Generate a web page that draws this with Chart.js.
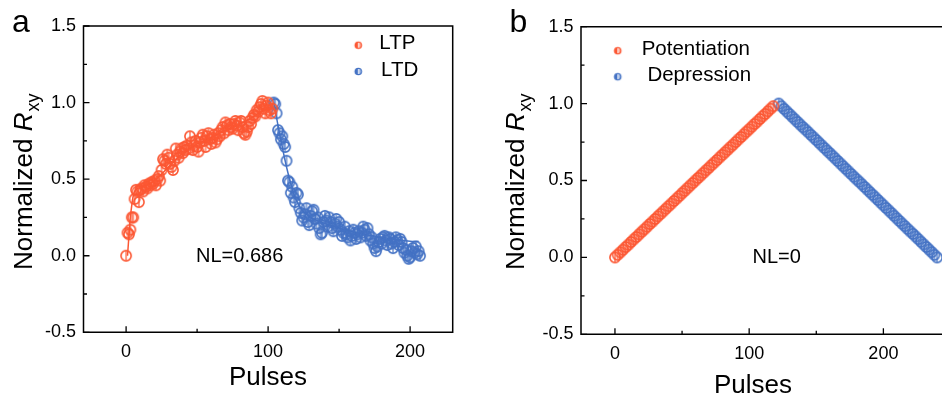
<!DOCTYPE html>
<html>
<head>
<meta charset="utf-8">
<script src="https://cdn.jsdelivr.net/npm/chart.js@4.4.1/dist/chart.umd.min.js"></script>
<style>
  html, body { margin: 0; padding: 0; background: #fff; }
  #wrap { display: flex; width: 942px; height: 398px; }
  canvas { display: block; }
</style>
</head>
<body>
<div id="wrap">
  <canvas id="chartA" width="471" height="398"></canvas>
  <canvas id="chartB" width="471" height="398"></canvas>
</div>
<script>
// ---- panel a : measured LTP / LTD (one value per pulse) ----
const ltpStart = 0;
const ltpValues = [
  0.00, 0.15, 0.14, 0.17, 0.25, 0.25, 0.37, 0.43, 0.42, 0.35,
  0.43, 0.44, 0.42, 0.46, 0.45, 0.44, 0.47, 0.46, 0.48, 0.47,
  0.49, 0.46, 0.50, 0.52, 0.49, 0.56, 0.63, 0.62, 0.60, 0.66,
  0.64, 0.60, 0.58, 0.56, 0.62, 0.70, 0.66, 0.64, 0.68, 0.70,
  0.67, 0.71, 0.69, 0.72, 0.70, 0.78, 0.74, 0.69, 0.72, 0.75,
  0.71, 0.68, 0.74, 0.77, 0.79, 0.75, 0.71, 0.78, 0.80, 0.76,
  0.73, 0.77, 0.79, 0.74, 0.76, 0.80, 0.78, 0.82, 0.84, 0.80,
  0.87, 0.85, 0.82, 0.86, 0.84, 0.83, 0.86, 0.88, 0.85, 0.82,
  0.87, 0.88, 0.84, 0.80, 0.79, 0.81, 0.84, 0.88, 0.86, 0.90,
  0.92, 0.91, 0.95, 0.94, 0.97, 0.99, 1.01, 0.96, 0.93, 0.98,
  1.00, 0.95, 0.93, 0.96
];
const ltdStart = 104;
const ltdValues = [
  1.00, 0.99, 0.93, 0.82, 0.80, 0.76, 0.78, 0.73, 0.71, 0.62,
  0.49, 0.48, 0.41, 0.45, 0.38, 0.35, 0.41, 0.40, 0.31, 0.28,
  0.23, 0.25, 0.27, 0.31, 0.22, 0.20, 0.26, 0.29, 0.30, 0.24,
  0.21, 0.25, 0.18, 0.14, 0.15, 0.22, 0.26, 0.23, 0.19, 0.25,
  0.22, 0.18, 0.16, 0.21, 0.24, 0.19, 0.22, 0.17, 0.13, 0.15,
  0.19, 0.14, 0.12, 0.16, 0.10, 0.13, 0.17, 0.15, 0.11, 0.14,
  0.16, 0.12, 0.15, 0.19, 0.17, 0.13, 0.18, 0.14, 0.10, 0.12,
  0.08, 0.05, 0.03, 0.06, 0.09, 0.11, 0.08, 0.12, 0.13, 0.10,
  0.07, 0.12, 0.11, 0.08, 0.05, 0.09, 0.12, 0.10, 0.07, 0.11,
  0.09, 0.05, 0.02, 0.04, 0.00, -0.02, -0.01, 0.03, 0.05, 0.02,
  0.06, 0.01, 0.03, 0.00
];
// fitted curves drawn through the data
const ltpFitPulses = [1, 2, 3, 4, 5, 6, 8, 12, 20, 30, 40, 50, 60, 70, 80, 90, 97, 103];
const ltpFitValues = [0.00, 0.13, 0.25, 0.33, 0.39, 0.42, 0.44, 0.45, 0.49, 0.58, 0.67, 0.73, 0.77, 0.82, 0.86, 0.91, 0.95, 0.96];
const ltdFitPulses = [104, 106, 108, 110, 112, 114, 116, 118, 120, 123, 127, 132, 140, 150, 160, 170, 180, 190, 200, 206];
const ltdFitValues = [1.00, 0.90, 0.80, 0.71, 0.62, 0.54, 0.47, 0.41, 0.36, 0.31, 0.27, 0.24, 0.21, 0.18, 0.155, 0.135, 0.12, 0.105, 0.095, 0.093];

// ---- panel b : ideal linear update (every 2nd pulse) ----
const potStart = 0;
const potValues = [
  0, .017, .033, .05, .067, .083, .1, .117, .133, .15,
  .167, .183, .2, .217, .233, .25, .267, .283, .3, .317,
  .333, .35, .367, .383, .4, .417, .433, .45, .467, .483,
  .5, .517, .533, .55, .567, .583, .6, .617, .633, .65,
  .667, .683, .7, .717, .733, .75, .767, .783, .8, .817,
  .833, .85, .867, .883, .9, .917, .933, .95, .967, .983
];
const depStart = 122;
const depValues = [
  1.0, .983, .966, .949, .932, .915, .898, .881, .864, .847,
  .831, .814, .797, .780, .763, .746, .729, .712, .695, .678,
  .661, .644, .627, .610, .593, .576, .559, .542, .525, .508,
  .492, .475, .458, .441, .424, .407, .390, .373, .356, .339,
  .322, .305, .288, .271, .254, .237, .220, .203, .186, .169,
  .153, .136, .119, .102, .085, .068, .051, .034, .017, 0
];
const pulseStepB = 2;

const yMajor = [-0.5, 0, 0.5, 1.0, 1.5];
const yMinor = [-0.25, 0.25, 0.75, 1.25];
const xMajor = [0, 100, 200];
const xMinor = [50, 150, 250];

const RED = '#fc5733';
const BLUE = '#4472c4';
const FONT = '"Liberation Sans", Arial, Helvetica, sans-serif';

// open ring split by a vertical line, as in the data
function ringMarker(color, r) {
  const c = document.createElement('canvas');
  const s = Math.ceil(r * 2 + 3);
  c.width = s; c.height = s;
  const g = c.getContext('2d');
  g.strokeStyle = color;
  g.lineWidth = 1.6;
  g.beginPath(); g.arc(s / 2, s / 2, r, 0, Math.PI * 2); g.stroke();
  g.lineWidth = 1.2;
  g.beginPath(); g.moveTo(s / 2, s / 2 - r + 0.5); g.lineTo(s / 2, s / 2 + r - 0.5); g.stroke();
  return c;
}
// small legend dot: filled disc with a white split
function legendMarker(color, r) {
  const c = document.createElement('canvas');
  const s = Math.ceil(r * 2 + 3);
  c.width = s; c.height = s;
  const g = c.getContext('2d');
  g.fillStyle = color;
  g.beginPath(); g.arc(s / 2, s / 2, r, 0, Math.PI * 2); g.fill();
  g.strokeStyle = '#fff';
  g.lineWidth = 1.1;
  g.beginPath(); g.moveTo(s / 2 + 0.3, s / 2 - r + 1.2); g.lineTo(s / 2 + 0.3, s / 2 + r - 1.2); g.stroke();
  g.fillStyle = 'rgba(255,255,255,0.45)';
  g.beginPath(); g.arc(s / 2 + 0.3, s / 2, r - 1.4, -Math.PI / 2, Math.PI / 2); g.fill();
  return c;
}
const redMark = ringMarker(RED, 5.1);
const blueMark = ringMarker(BLUE, 5.1);
const redLeg = legendMarker(RED, 3.8);
const blueLeg = legendMarker(BLUE, 3.8);

function toPoints(start, step, vals) {
  return vals.map((v, i) => ({x: start + i * step, y: v}));
}
function pairPoints(xs, ys) {
  return xs.map((x, i) => ({x: x, y: ys[i]}));
}

// frame, inward ticks, titles, note and legend
const panelDeco = {
  id: 'panelDeco',
  afterDraw(chart, args, o) {
    const {ctx, chartArea: a, scales: {x, y}} = chart;
    ctx.save();
    ctx.strokeStyle = '#000';
    ctx.lineWidth = 1.5;
    ctx.beginPath();
    if (o.openRight) {
      ctx.moveTo(chart.width + 2, a.top);
      ctx.lineTo(a.left, a.top);
      ctx.lineTo(a.left, a.bottom);
      ctx.lineTo(chart.width + 2, a.bottom);
    } else {
      ctx.rect(a.left, a.top, a.right - a.left, a.bottom - a.top);
    }
    ctx.stroke();

    ctx.lineWidth = 1.3;
    ctx.beginPath();
    yMajor.forEach(v => { const p = y.getPixelForValue(v); ctx.moveTo(a.left, p); ctx.lineTo(a.left + 6, p); });
    yMinor.forEach(v => { const p = y.getPixelForValue(v); ctx.moveTo(a.left, p); ctx.lineTo(a.left + 3.5, p); });
    xMajor.forEach(v => { const p = x.getPixelForValue(v); if (p < chart.width) { ctx.moveTo(p, a.bottom); ctx.lineTo(p, a.bottom - 6); } });
    xMinor.forEach(v => { const p = x.getPixelForValue(v); if (p < chart.width) { ctx.moveTo(p, a.bottom); ctx.lineTo(p, a.bottom - 3.5); } });
    ctx.stroke();

    ctx.fillStyle = '#000';
    // panel letter
    ctx.font = '32px ' + FONT;
    ctx.textAlign = 'left';
    ctx.textBaseline = 'alphabetic';
    ctx.fillText(o.letter, o.letterX, 31.5);

    // x title
    ctx.font = '26px ' + FONT;
    ctx.textAlign = 'center';
    ctx.fillText('Pulses', o.xTitleX, o.xTitleY);

    // y title, rotated, with italic R and subscript xy
    ctx.save();
    ctx.translate(o.yTitleX, 270);
    ctx.rotate(-Math.PI / 2);
    ctx.textAlign = 'left';
    let cx = 0;
    ctx.font = '26px ' + FONT;
    ctx.fillText('Normalized ', cx, 0);
    cx += ctx.measureText('Normalized ').width;
    ctx.font = 'italic 26px ' + FONT;
    ctx.fillText('R', cx, 0);
    cx += ctx.measureText('R').width + 1;
    ctx.font = '18px ' + FONT;
    ctx.fillText('xy', cx, 7);
    ctx.restore();

    // NL note
    ctx.font = '20px ' + FONT;
    ctx.textAlign = 'center';
    ctx.textBaseline = 'middle';
    ctx.fillText(o.note, o.noteX, o.noteY);

    // legend
    ctx.textAlign = 'left';
    ctx.font = '20.5px ' + FONT;
    o.legend.forEach(it => {
      ctx.drawImage(it.img, it.mx - it.img.width / 2, it.my - it.img.height / 2);
      ctx.fillText(it.text, it.tx, it.my - 1.5);
    });
    ctx.restore();
  }
};

function makeScales(xMin, xMax, yWidth, xHeight) {
  return {
    x: {
      type: 'linear', min: xMin, max: xMax,
      afterBuildTicks: s => { s.ticks = xMajor.map(v => ({value: v})); },
      afterFit: s => { s.height = xHeight; },
      grid: {display: false, drawTicks: false},
      border: {display: false},
      ticks: {padding: 9, color: '#000', font: {family: FONT, size: 18}}
    },
    y: {
      type: 'linear', min: -0.5, max: 1.5,
      afterBuildTicks: s => { s.ticks = yMajor.map(v => ({value: v})); },
      afterFit: s => { s.width = yWidth; },
      grid: {display: false, drawTicks: false},
      border: {display: false},
      ticks: {padding: 7.5, color: '#000', font: {family: FONT, size: 18}, callback: v => v.toFixed(1)}
    }
  };
}

function scatterSet(pts, img) {
  return {type: 'scatter', data: pts, showLine: false, pointStyle: img, pointRadius: 5, pointHoverRadius: 5, order: 1, clip: false};
}
function fitSet(pts, color) {
  return {type: 'line', data: pts, borderColor: color, borderWidth: 1.5, pointRadius: 0, tension: 0.3, fill: false, order: 2};
}

new Chart(document.getElementById('chartA'), {
  type: 'scatter',
  data: {
    datasets: [
      fitSet(pairPoints(ltpFitPulses, ltpFitValues), RED),
      fitSet(pairPoints(ltdFitPulses, ltdFitValues), BLUE),
      scatterSet(toPoints(ltpStart, 1, ltpValues), redMark),
      scatterSet(toPoints(ltdStart, 1, ltdValues), blueMark)
    ]
  },
  options: {
    responsive: false, animation: false, devicePixelRatio: 1,
    layout: {padding: {left: 0, right: 18.3, top: 26, bottom: 0}},
    scales: makeScales(-30, 230, 83.5, 65.7),
    plugins: {
      legend: {display: false}, tooltip: {enabled: false},
      panelDeco: {
        letter: 'a', letterX: 12, xTitleX: 268, xTitleY: 385, yTitleX: 31.7,
        note: 'NL=0.686', noteX: 239.7, noteY: 256,
        legend: [
          {img: redLeg, mx: 358.3, my: 45.2, tx: 379.3, text: 'LTP'},
          {img: blueLeg, mx: 358.3, my: 71.5, tx: 381, text: 'LTD'}
        ]
      }
    }
  },
  plugins: [panelDeco]
});

new Chart(document.getElementById('chartB'), {
  type: 'scatter',
  data: {
    datasets: [
      scatterSet(toPoints(potStart, pulseStepB, potValues), redMark),
      scatterSet(toPoints(depStart, pulseStepB, depValues), blueMark)
    ]
  },
  options: {
    responsive: false, animation: false, devicePixelRatio: 1,
    layout: {padding: {left: 0, right: 0, top: 26.7, bottom: 0}},
    scales: makeScales(-25.3, 239.2, 110, 63.7),
    plugins: {
      legend: {display: false}, tooltip: {enabled: false},
      panelDeco: {
        letter: 'b', letterX: 38.5, xTitleX: 282, xTitleY: 393, yTitleX: 53,
        note: 'NL=0', noteX: 305.7, noteY: 257.3, openRight: true,
        legend: [
          {img: redLeg, mx: 146.7, my: 50.7, tx: 170.7, text: 'Potentiation'},
          {img: blueLeg, mx: 146.7, my: 76.7, tx: 170.7, text: ' Depression'}
        ]
      }
    }
  },
  plugins: [panelDeco]
});
</script>
</body>
</html>
